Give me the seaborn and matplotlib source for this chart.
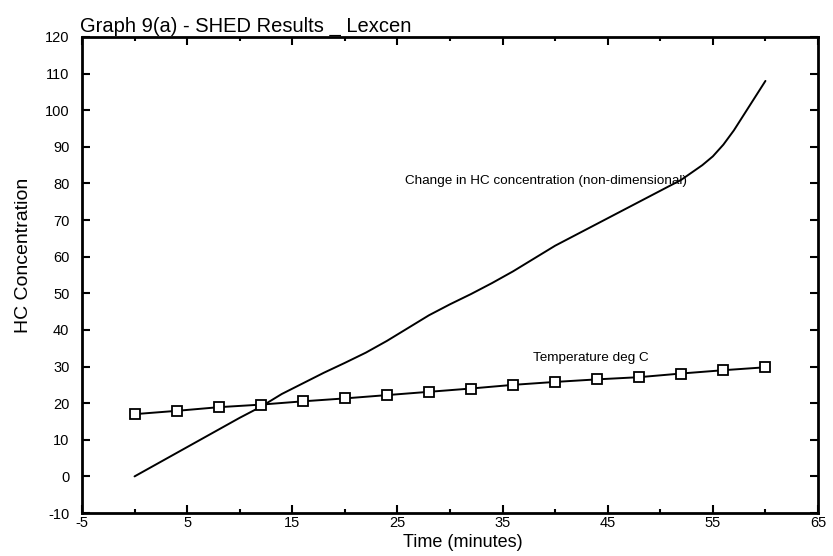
import numpy as np
import pandas as pd
import seaborn as sns
import matplotlib
matplotlib.use("Agg")
import matplotlib.pyplot as plt
from matplotlib.ticker import MultipleLocator

# HC concentration change (non-dimensional)
hc_time = [0, 2, 4, 6, 8, 10, 12, 14, 16, 18, 20, 22, 24, 26, 28, 30,
           32, 34, 36, 38, 40, 42, 44, 46, 48, 50, 52, 53, 54, 55, 56, 57,
           58, 59, 60]
hc_values = [0, 3.2, 6.4, 9.6, 12.8, 16.0, 19.0, 22.5, 25.4, 28.3, 31.0, 33.8,
             37.0, 40.5, 44.0, 47.0, 49.8, 52.8, 56.0, 59.5, 63.0, 66.0, 69.0,
             72.0, 75.0, 78.0, 81.0, 83.0, 85.0, 87.4, 90.6, 94.5, 99.0,
             103.5, 108.0]

# Temperature deg C
temp_time = [0, 4, 8, 12, 16, 20, 24, 28, 32, 36, 40, 44, 48, 52, 56, 60]
temp_values = [17.0, 17.9, 18.9, 19.6, 20.5, 21.3, 22.2, 23.1, 24.0, 25.0,
               25.8, 26.5, 27.1, 28.1, 29.0, 29.8]

x_ticks = [-5, 5, 15, 25, 35, 45, 55, 65]
y_ticks = list(range(-10, 121, 10))

sns.set_style("ticks")
plt.rcParams["font.family"] = ["Liberation Sans", "DejaVu Sans"]
plt.rcParams["axes.unicode_minus"] = False
plt.rcParams["text.color"] = "black"
plt.rcParams["axes.labelcolor"] = "black"

fig = plt.figure(figsize=(8.33, 5.56), dpi=100)
ax = fig.add_axes([0.0984, 0.0773, 0.8836, 0.8562])

hc_df = pd.DataFrame({"time": hc_time, "value": hc_values})
temp_df = pd.DataFrame({"time": temp_time, "value": temp_values})

sns.lineplot(data=hc_df, x="time", y="value", ax=ax, color="black", linewidth=1.4)
sns.lineplot(data=temp_df, x="time", y="value", ax=ax, color="black", linewidth=1.4,
             marker="s", markersize=7, markerfacecolor="white",
             markeredgecolor="black", markeredgewidth=1.3)

ax.set_xlim(-5, 65)
ax.set_ylim(-10, 120)
ax.set_xticks(x_ticks)
ax.xaxis.set_minor_locator(MultipleLocator(5))
ax.set_yticks(y_ticks)
ax.tick_params(axis="both", which="both", direction="in", top=True, right=True,
               width=1.5, labelsize=10.5, colors="black")
ax.tick_params(axis="both", which="major", length=6)
ax.tick_params(axis="both", which="minor", length=3)
ax.tick_params(axis="x", pad=2)
ax.tick_params(axis="y", pad=9)
for s in ax.spines.values():
    s.set_linewidth(2)
    s.set_color("black")

ax.set_xlabel("Time (minutes)", fontsize=13, labelpad=0, color="black")
ax.xaxis.set_label_coords(0.5177, -0.045)
ax.set_ylabel("HC Concentration", fontsize=14, color="black")
ax.yaxis.set_label_coords(-0.068, 0.542)
ax.set_title("Graph 9(a) - SHED Results _ Lexcen", fontsize=14.5, loc="left",
             pad=4, x=-0.002, color="black")

ax.text(25.7, 80.6, "Change in HC concentration (non-dimensional)", fontsize=9.7,
        va="center", ha="left", color="black")
ax.text(37.9, 32.2, "Temperature deg C", fontsize=9.7, va="center", ha="left",
        color="black")

fig.savefig("out.png", dpi=100)
